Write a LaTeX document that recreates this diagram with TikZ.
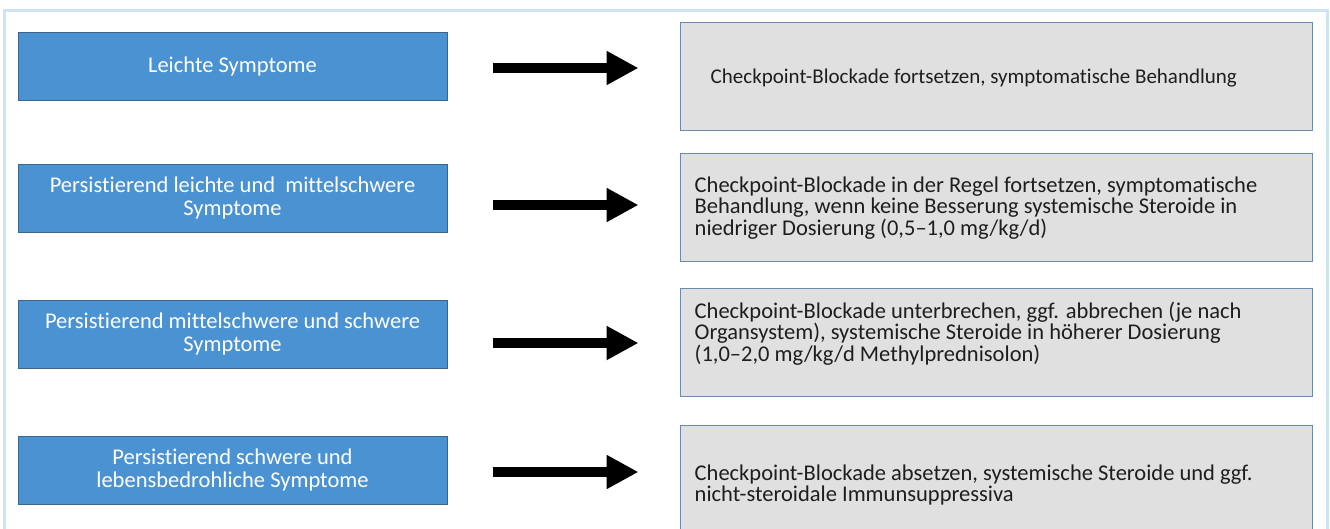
\documentclass[tikz,border=0pt]{standalone}
\usepackage{fontspec}
\setmainfont{Carlito}[Ligatures=NoCommon]
\usetikzlibrary{arrows.meta,calc}
\definecolor{lbfill}{RGB}{74,146,210}
\definecolor{lbdraw}{RGB}{60,100,140}
\definecolor{gbfill}{RGB}{224,224,224}
\definecolor{gbdraw}{RGB}{108,138,172}
\definecolor{framec}{RGB}{205,228,242}
\definecolor{txt}{RGB}{30,30,30}
\tikzset{
  symbox/.style={rectangle, draw=lbdraw, line width=1pt, fill=lbfill, text=white,
    minimum width=429pt, minimum height=68pt, align=center, inner sep=0pt,
    font=\fontsize{22.5}{23}\selectfont},
  actbox/.style={rectangle, draw=gbdraw, line width=1pt, fill=gbfill, text=txt,
    minimum width=632pt, minimum height=108pt, inner sep=0pt},
  acttext/.style={anchor=west, text=txt, align=left, inner sep=0pt,
    font=\fontsize{22.5}{21.5}\selectfont},
  bigarrow/.style={line width=10pt, -{Triangle[length=32pt,width=32pt]}}
}
\begin{document}
\begin{tikzpicture}[x=1pt,y=-1pt]
\useasboundingbox (0,0) rectangle (1330,528);
\begin{scope}
\clip (0,0) rectangle (1330,528);
\draw[framec, line width=3pt] (4,10) rectangle (1327,560);
\node[symbox] (l1) at (232.5,66.5) {Leichte Symptome};
\node[symbox] (l2) at (232.5,198) {Persistierend leichte und\ \ mittelschwere\\Symptome};
\node[symbox] (l3) at (232.5,334) {Persistierend mittelschwere und schwere\\Symptome};
\node[symbox] (l4) at (232.5,470) {Persistierend schwere und\\lebensbedrohliche Symptome};
\node[actbox] (r1) at (996,76) {};
\node[actbox] (r2) at (996,207) {};
\node[actbox] (r3) at (996,342.5) {};
\node[actbox] (r4) at (996,479) {};
\node[acttext, font=\fontsize{21}{20}\selectfont] (t1) at ($(r1.west)+(31,2)$) {Checkpoint-Blockade fortsetzen, symptomatische Behandlung};
\node[acttext] (t2) at ($(r2.west)+(15,1)$) {Checkpoint-Blockade in der Regel fortsetzen, symptomatische\\Behandlung, wenn keine Besserung systemische Steroide in\\niedriger Dosierung (0,5--1,0 mg/kg/d)};
\node[acttext] (t3) at ($(r3.west)+(15,-9)$) {Checkpoint-Blockade unterbrechen, ggf. abbrechen (je nach\\Organsystem), systemische Steroide in höherer Dosierung\\(1,0--2,0 mg/kg/d Methylprednisolon)};
\node[acttext] (t4) at ($(r4.west)+(15,6)$) {Checkpoint-Blockade absetzen, systemische Steroide und ggf.\\nicht-steroidale Immunsuppressiva};
\draw[bigarrow] ($(l1.east)+(45,1.5)$) -- ($(r1.west)+(-41,-8)$);
\draw[bigarrow] ($(l2.east)+(45,7)$) -- ($(r2.west)+(-41,-2)$);
\draw[bigarrow] ($(l3.east)+(45,9)$) -- ($(r3.west)+(-41,0.5)$);
\draw[bigarrow] ($(l4.east)+(45,2)$) -- ($(r4.west)+(-41,-7)$);
\end{scope}
\end{tikzpicture}
\end{document}
